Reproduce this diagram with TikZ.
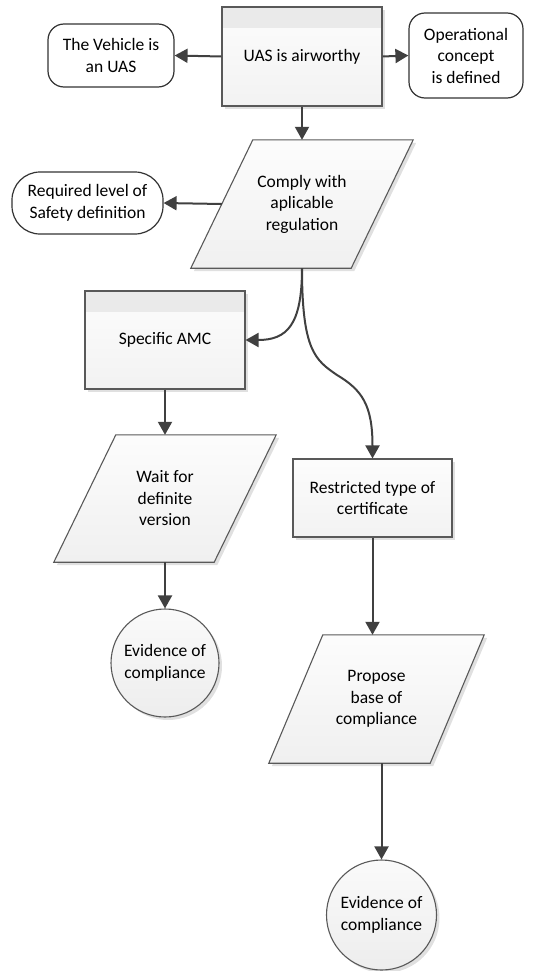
\documentclass[tikz,border=0pt]{standalone}
\usepackage{fontspec}
\setmainfont{Carlito}
\usetikzlibrary{arrows.meta,shadows,backgrounds}

\definecolor{linkcol}{HTML}{404040}
\definecolor{edgecol}{HTML}{595959}
\definecolor{bandcol}{HTML}{EAEAEA}

% outline of a slanted data block around an (undrawn) placeholder node
\newcommand\slantedblock[2]{%
  \draw[edgecol, line width=1.1pt, top color=black!1, bottom color=black!6, softshadow]
    ([xshift=#2]#1.north west) -- ([xshift=#2]#1.north east)
    -- ([xshift=-#2]#1.south east) -- ([xshift=-#2]#1.south west) -- cycle;}

\begin{document}
\begin{tikzpicture}[x=1pt, y=-1pt,
  every node/.style={font=\fontsize{17.5}{21.5}\selectfont, align=center, inner sep=0pt},
  softshadow/.style={drop shadow={shadow xshift=3pt, shadow yshift=-3pt, fill=black!12, opacity=1}},
  plainbox/.style={rectangle, draw=edgecol, line width=1.1pt, top color=black!1, bottom color=black!5, softshadow},
  bandbox/.style={plainbox, path picture={\fill[bandcol] (path picture bounding box.north west) rectangle ([yshift=-21pt]path picture bounding box.north east);}},
  term/.style={rectangle, rounded corners=16pt, draw=black!80, line width=1.2pt, fill=white},
  ring/.style={circle, draw=edgecol, line width=1.1pt, top color=black!2, bottom color=black!7, minimum size=108pt, softshadow},
  slot/.style={rectangle, minimum width=160pt, minimum height=128pt},
  flow/.style={draw=linkcol, line width=2pt, -{Triangle[length=13pt, width=14pt]}}]

\useasboundingbox (0,0) rectangle (535,971);

% process boxes
\node[bandbox, minimum width=160pt, minimum height=99pt] (uas) at (302,56.5) {UAS is airworthy};
\node[bandbox, minimum width=160pt, minimum height=98pt] (amc) at (165,340) {Specific AMC};
\node[plainbox, minimum width=159pt, minimum height=78pt] (restr) at (372.5,498) {Restricted type of\\certificate};

% terminals
\node[term, minimum width=126pt, minimum height=63pt] (vehicle) at (111,55.5) {The Vehicle is\\an UAS};
\node[term, minimum width=114pt, minimum height=85pt] (oper) at (466,55.5) {Operational\\concept\\is defined};
\node[term, rounded corners=28pt, minimum width=151pt, minimum height=62pt] (safety) at (87.5,203) {Required level of\\Safety definition};

% data blocks
\node[slot] (comply) at (302,204) {Comply with\\aplicable\\regulation};
\node[slot, minimum height=127pt] (wait) at (165,498.5) {Wait for\\definite\\version};
\node[slot, minimum width=161pt] (propose) at (376.5,699) {Propose\\base of\\compliance};
\begin{pgfonlayer}{background}
  \slantedblock{comply}{31pt}
  \slantedblock{wait}{31pt}
  \slantedblock{propose}{27pt}
\end{pgfonlayer}

% end states
\node[ring] (ev1) at (165,663) {Evidence of\\compliance};
\node[ring, minimum size=110pt] (ev2) at (381.5,915) {Evidence of\\compliance};

% connectors
\draw[flow] (uas.west) -- (vehicle.east);
\draw[flow] (uas.east) -- (oper.west);
\draw[flow] (uas.south) -- (comply.north);
\draw[flow] (comply.west) -- (safety.east);
\draw[flow] (comply.south) .. controls (302,325) and (287,340) .. (amc.east);
\draw[flow] (comply.south) .. controls (302,350) and (315,360) .. (337,375)
                           .. controls (362,390) and (372.5,405) .. (restr.north);
\draw[flow] (amc.south) -- (wait.north);
\draw[flow] (wait.south) -- (ev1.north);
\draw[flow] (restr.south) -- (restr.south |- propose.north);
\draw[flow] (ev2.north |- propose.south) -- (ev2.north);
\end{tikzpicture}
\end{document}
